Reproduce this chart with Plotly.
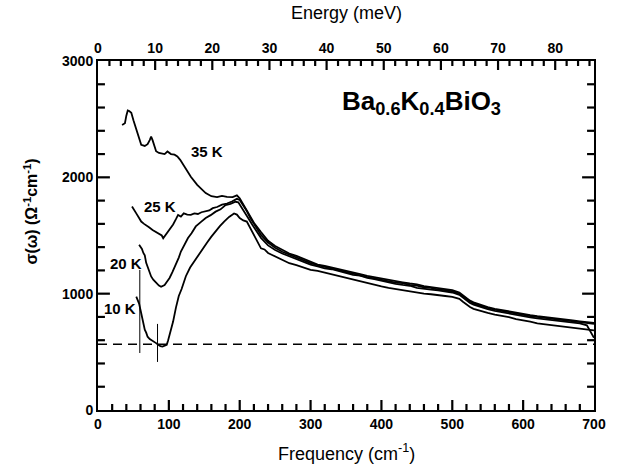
import plotly.graph_objects as go

# ---------------- data ----------------
CM_PER_MEV = 8.0655

f35 = [34, 38, 40, 42, 44, 47, 50, 52, 56, 61, 66, 70, 73, 75, 77, 79, 82, 86, 90, 94, 98, 103, 108, 112, 116,
       122, 131, 140, 152, 160, 168, 175, 182, 190, 196, 200, 205, 210, 215, 220, 230, 240, 250, 260, 270, 280,
       290, 300, 310, 320, 330, 340, 350, 360, 370, 380, 390, 400, 410, 420, 430, 440, 450, 460, 470, 480, 490,
       500, 510, 515, 520, 525, 530, 540, 550, 560, 570, 580, 590, 600, 610, 620, 630, 640, 650, 660, 670, 680,
       690, 700]
s35 = [2450, 2465, 2530, 2575, 2570, 2555, 2490, 2455, 2380, 2280, 2270, 2285, 2320, 2350, 2320, 2280, 2225,
       2210, 2205, 2200, 2222, 2200, 2195, 2180, 2150, 2090, 2005, 1935, 1865, 1838, 1830, 1840, 1832, 1830,
       1845, 1820, 1770, 1720, 1660, 1610, 1530, 1455, 1410, 1375, 1345, 1325, 1300, 1272, 1250, 1238, 1225,
       1212, 1195, 1180, 1168, 1152, 1140, 1130, 1118, 1108, 1098, 1088, 1080, 1065, 1056, 1048, 1040, 1030,
       1010, 985, 962, 940, 925, 902, 885, 870, 858, 846, 835, 826, 815, 806, 800, 792, 784, 776, 770, 762,
       756, 748]

f25 = [48, 51, 54, 58, 61, 65, 68, 72, 77, 82, 87, 90, 92, 95, 98, 102, 106, 110, 113, 117, 121, 126, 131, 136,
       141, 146, 152, 157, 162, 168, 175, 182, 189, 196, 200, 205, 210, 215, 220, 230, 240, 250, 260, 270, 280,
       290, 300, 310, 320, 330, 340, 350, 360, 370, 380, 390, 400, 410, 420, 430, 440, 450, 460, 470, 480, 490,
       500, 510, 515, 520, 525, 530, 540, 550, 560, 570, 580, 590, 600, 610, 620, 630, 640, 650, 660, 670, 680,
       690, 700]
s25 = [1750, 1725, 1690, 1650, 1620, 1600, 1590, 1570, 1548, 1530, 1515, 1500, 1476, 1500, 1534, 1565, 1595,
       1640, 1677, 1663, 1690, 1680, 1677, 1690, 1685, 1700, 1706, 1715, 1735, 1745, 1765, 1775, 1792, 1815,
       1805, 1760, 1710, 1650, 1600, 1505, 1440, 1395, 1360, 1335, 1315, 1290, 1262, 1245, 1230, 1215, 1205,
       1185, 1172, 1160, 1142, 1132, 1120, 1110, 1095, 1090, 1075, 1070, 1055, 1050, 1035, 1030, 1020, 1000,
       975, 952, 932, 915, 895, 878, 862, 850, 838, 828, 818, 808, 800, 790, 785, 776, 770, 762, 755, 748, 740]

f20 = [58, 60, 62, 64, 66, 68, 71, 75, 78, 82, 86, 89, 92, 94, 97, 101, 105, 110, 114, 117, 122, 127, 132, 138,
       145, 152, 159, 166, 173, 180, 187, 194, 198, 203, 208, 213, 218, 223, 230, 240, 250, 260, 270, 280, 290,
       300, 310, 320, 330, 340, 350, 360, 370, 380, 390, 400, 410, 420, 430, 440, 450, 460, 470, 480, 490, 500,
       510, 515, 520, 525, 530, 540, 550, 560, 570, 580, 590, 600, 610, 620, 630, 640, 650, 660, 670, 680, 690,
       700]
s20 = [1420, 1400, 1385, 1350, 1330, 1265, 1210, 1148, 1120, 1090, 1070, 1060, 1066, 1075, 1100, 1135, 1185,
       1248, 1310, 1362, 1420, 1478, 1520, 1578, 1615, 1650, 1675, 1705, 1725, 1762, 1772, 1790, 1785, 1740,
       1690, 1640, 1590, 1545, 1480, 1415, 1375, 1345, 1320, 1300, 1275, 1250, 1235, 1218, 1210, 1192, 1180,
       1162, 1155, 1135, 1125, 1110, 1100, 1085, 1075, 1068, 1050, 1045, 1035, 1028, 1018, 1010, 990, 965,
       942, 920, 905, 885, 868, 852, 840, 828, 816, 808, 796, 788, 780, 772, 765, 760, 752, 745, 728, 620]

f10 = [54, 56, 58, 60, 62, 64, 66, 68, 70, 73, 76, 79, 82, 85, 88, 91, 94, 97, 99, 101, 103, 106, 110, 114, 118,
       124, 130, 136, 142, 148, 154, 160, 166, 172, 178, 185, 192, 196, 200, 205, 210, 215, 220, 225, 230, 235,
       240, 245, 250, 260, 270, 280, 290, 300, 310, 320, 330, 340, 350, 360, 370, 380, 390, 400, 410, 420, 430,
       440, 450, 460, 470, 480, 490, 500, 510, 515, 520, 525, 530, 540, 550, 560, 570, 580, 590, 600, 610, 620,
       630, 640, 650, 660, 670, 680, 690, 700]
s10 = [975, 950, 915, 860, 800, 740, 690, 665, 630, 610, 600, 588, 575, 560, 548, 545, 552, 560, 600, 640, 700,
       760, 880, 980, 1040, 1150, 1225, 1280, 1340, 1390, 1440, 1490, 1540, 1580, 1620, 1660, 1690, 1680, 1650,
       1630, 1620, 1560, 1500, 1440, 1390, 1380, 1350, 1335, 1320, 1290, 1262, 1245, 1222, 1205, 1195, 1180,
       1165, 1148, 1132, 1118, 1108, 1090, 1075, 1062, 1050, 1040, 1030, 1018, 1010, 1000, 995, 985, 980, 972,
       955, 930, 905, 885, 870, 850, 835, 820, 810, 798, 782, 772, 760, 745, 738, 730, 722, 716, 710, 704, 695,
       685]

curve_labels = ["35 K", "25 K", "20 K", "10 K"]
label_x = [154, 87, 39, 31]
label_y = [2219, 1746, 1256, 869]

formula_text = "<b>Ba<sub>0.6</sub>K<sub>0.4</sub>BiO<sub>3</sub></b>"
formula_x = 572
formula_y = 2640

dash_level = 565
gap_marker_x = [59, 84]
gap_marker_lo = [490, 413]
gap_marker_hi = [1204, 740]

x_range = [0, 700]
y_range = [0, 3000]
e_range = [x_range[0] / CM_PER_MEV, x_range[1] / CM_PER_MEV]

# tick spacing (axis units)
x_major, x_minor = 100, 20
y_major, y_minor = 1000, 200
e_major, e_minor = 10, 2

FONT = "Liberation Sans, Arial, sans-serif"

fig = go.Figure()
for f, s in [(f35, s35), (f25, s25), (f20, s20), (f10, s10)]:
    fig.add_trace(go.Scatter(x=f, y=s, mode="lines", line=dict(color="black", width=1.8),
                             showlegend=False, hoverinfo="skip"))

# dashed reference line
fig.add_trace(go.Scatter(x=x_range, y=[dash_level, dash_level], mode="lines",
                         line=dict(color="black", width=1.6, dash="9px,6px"),
                         showlegend=False, hoverinfo="skip"))

# gap markers
for gx, lo, hi in zip(gap_marker_x, gap_marker_lo, gap_marker_hi):
    fig.add_trace(go.Scatter(x=[gx, gx], y=[lo, hi], mode="lines",
                             line=dict(color="black", width=1),
                             showlegend=False, hoverinfo="skip"))

# ---- inside tick marks, built from the axis spacings ----
px_x = (x_range[1] - x_range[0]) / 500.0   # axis units per pixel (x)
px_y = (y_range[1] - y_range[0]) / 349.0   # axis units per pixel (y)
tx, ty = [], []


def seg(x0, y0, x1, y1):
    tx.extend([x0, x1, None])
    ty.extend([y0, y1, None])


v = x_range[0] + x_minor
while v < x_range[1] - 1e-9:
    ln = 10 if abs(v / x_major - round(v / x_major)) < 1e-9 else 6
    seg(v, y_range[0], v, y_range[0] + ln * px_y)
    v += x_minor

e = e_minor
while e * CM_PER_MEV < x_range[1] - 1e-9:
    ln = 9 if abs(e / e_major - round(e / e_major)) < 1e-9 else 5
    xv = e * CM_PER_MEV
    seg(xv, y_range[1], xv, y_range[1] - ln * px_y)
    e += e_minor

v = y_range[0] + y_minor
while v < y_range[1] - 1e-9:
    ln = 12 if abs(v / y_major - round(v / y_major)) < 1e-9 else 7
    seg(x_range[0], v, x_range[0] + ln * px_x, v)
    seg(x_range[1], v, x_range[1] - ln * px_x, v)
    v += y_minor

fig.add_trace(go.Scatter(x=tx, y=ty, mode="lines", line=dict(color="black", width=2.2),
                         showlegend=False, hoverinfo="skip", connectgaps=False))

# invisible trace so that the top energy axis is drawn
fig.add_trace(go.Scatter(x=[0], y=[None], xaxis="x2", yaxis="y", mode="markers",
                         marker=dict(opacity=0), showlegend=False, hoverinfo="skip"))

for t, x, y in zip(curve_labels, label_x, label_y):
    fig.add_annotation(x=x, y=y, text="<b>" + t + "</b>", showarrow=False, xref="x", yref="y",
                       font=dict(family=FONT, size=15, color="black"))

fig.add_annotation(x=formula_x, y=formula_y, xref="x", yref="y", showarrow=False,
                   xanchor="right", yanchor="middle", text=formula_text,
                   font=dict(family=FONT, size=26, color="black"))

# axis titles as annotations (pixel-placed)
title_font = dict(family=FONT, size=18, color="black")
fig.add_annotation(x=0.5, y=-42 / 349, xref="paper", yref="paper", showarrow=False,
                   yanchor="middle", text="Frequency (cm<sup>-1</sup>)", font=title_font)
fig.add_annotation(x=0.5, y=1 + 48 / 349, xref="paper", yref="paper", showarrow=False,
                   yanchor="middle", text="Energy (meV)", font=title_font)
fig.add_annotation(x=-68 / 500, y=(410 - 212) / 349, xref="paper", yref="paper", showarrow=False,
                   xanchor="center", yanchor="middle", textangle=-90,
                   text="<b>σ(ω) (Ω<sup>-1</sup>cm<sup>-1</sup>)</b>",
                   font=dict(family=FONT, size=16, color="black"))

tickfont = dict(family=FONT, size=14, color="black")
common = dict(showgrid=False, zeroline=False, ticks="", tickprefix="<b>", ticksuffix="</b>",
              tickfont=tickfont, showline=True, linecolor="black", linewidth=2)

fig.update_layout(
    width=618, height=466,
    margin=dict(l=98, r=20, t=61, b=56),
    plot_bgcolor="white", paper_bgcolor="white",
    xaxis=dict(range=x_range, tickmode="linear", tick0=0, dtick=x_major, **common),
    xaxis2=dict(range=e_range, overlaying="x", side="top", anchor="y", tickmode="linear", tick0=0,
                dtick=e_major, **common),
    yaxis=dict(range=y_range, tickmode="linear", tick0=0, dtick=y_major, mirror=True, **common),
)

fig.write_html("out.html")
